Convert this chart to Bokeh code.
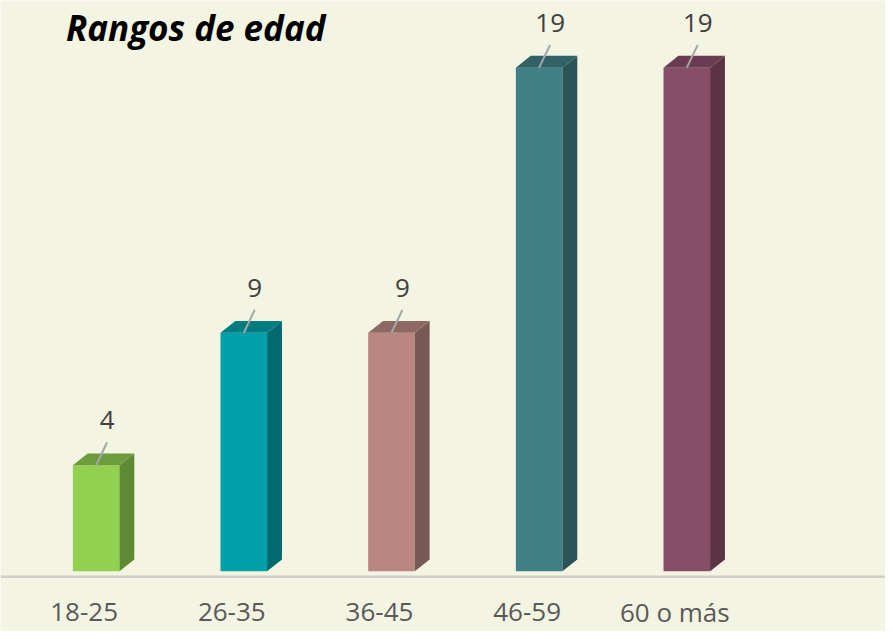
from bokeh.plotting import figure
from bokeh.models import Range1d, Label, Span
from bokeh.core.properties import value
from bokeh.embed import file_html
from bokeh.resources import INLINE

categories = ["18-25", "26-35", "36-45", "46-59", "60 o más"]
counts = [4, 9, 9, 19, 19]
front_colors = ["#92d050", "#00a0aa", "#b9877f", "#417f86", "#874e68"]
side_colors = ["#5e8a33", "#006a6e", "#765953", "#2b5358", "#5b3345"]
top_colors = ["#6c9c3c", "#007c80", "#8e6862", "#306268", "#6a3c51"]

BG = "#f4f4e3"
W, H = 885, 631
SX = W / 893.0
SY = H / 639.0
PX_X = 149.0 * SX          # pixels per category
PX_Y = 26.84 * SY          # pixels per unit
x0_px = 96.5 * SX          # pixel of first bar centre
y0_px = 578.0 * SY         # pixel (from top) of value 0

p = figure(width=W, height=H, output_backend="svg", toolbar_location=None,
           x_axis_type=None, y_axis_type=None, min_border=0)
p.x_range = Range1d(-x0_px / PX_X, (W - x0_px) / PX_X)
p.y_range = Range1d(-(H - y0_px) / PX_Y, y0_px / PX_Y)
p.background_fill_color = BG
p.border_fill_color = BG
p.outline_line_color = None
p.grid.visible = False

xs = list(range(len(categories)))
hw = 23.5 * SX / PX_X
dx = 15.0 * SX / PX_X
dy = 12.0 * SY / PX_Y

# baseline
p.add_layout(Span(location=-5.5 * SY / PX_Y, dimension="width", line_color="#cfcfc6", line_width=2.5))

# front faces
p.quad(left=[x - hw for x in xs], right=[x + hw for x in xs], bottom=0, top=counts,
       fill_color=front_colors, line_color=None)
# side faces
side_x = [[x + hw, x + hw + dx, x + hw + dx, x + hw] for x in xs]
side_y = [[0, dy, v + dy, v] for v in counts]
p.patches(side_x, side_y, fill_color=side_colors, line_color=None)
# top faces
top_x = [[x - hw, x + hw, x + hw + dx, x - hw + dx] for x in xs]
top_y = [[v, v, v + dy, v + dy] for v in counts]
p.patches(top_x, top_y, fill_color=top_colors, line_color=None)

# leader lines
p.segment(x0=xs, y0=counts, x1=[x + 11.0 * SX / PX_X for x in xs], y1=[v + 23.0 * SY / PX_Y for v in counts],
          line_color="#a6a6a6", line_width=2)

# value labels
p.text(x=xs, y=counts, text=[str(v) for v in counts], x_offset=11, y_offset=-45,
       text_align="center", text_baseline="alphabetic", text_font=value("Open Sans"),
       text_font_size="26px", text_color="#404040")

# category labels
p.text(x=xs, y=[0] * len(xs), text=categories, x_offset=-12, y_offset=41,
       text_align="center", text_baseline="alphabetic", text_font=value("Open Sans"),
       text_font_size="26px", text_color="#595959")

p.add_layout(Label(x=66 * SX, y=H - 36 * SY + 9, x_units="screen", y_units="screen", text="Rangos de edad",
                   text_font="Open Sans", text_font_style="bold italic", text_font_size="35px",
                   text_color="#000000", text_baseline="alphabetic"))

open("out.html", "w").write(file_html(p, INLINE))
